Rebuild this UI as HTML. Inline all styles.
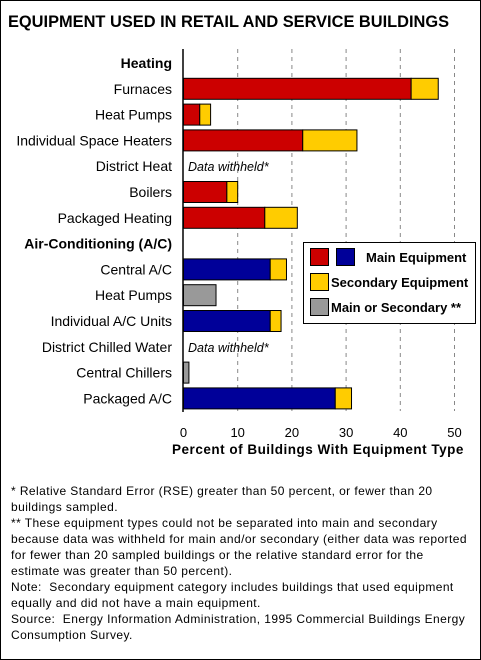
<!DOCTYPE html>
<html><head><meta charset="utf-8"><style>
html,body{margin:0;padding:0;background:#fff;}
#wrap{position:relative;width:479px;height:658px;border:1px solid #000;overflow:hidden;font-family:"Liberation Sans",sans-serif;}
.t{position:absolute;white-space:nowrap;color:#000;}
#notes{position:absolute;left:10px;top:482px;font-size:12px;line-height:16px;white-space:nowrap;letter-spacing:0.42px;}
</style></head><body>
<div id="wrap">
<div class="t" style="left:7px;top:12px;font-size:16.4px;font-weight:bold;">EQUIPMENT USED IN RETAIL AND SERVICE BUILDINGS</div>
<svg id="chart" width="479" height="470" style="position:absolute;left:0;top:0"></svg>
<div id="notes">* Relative Standard Error (RSE) greater than 50 percent, or fewer than 20<br>buildings sampled.<br>** These equipment types could not be separated into main and secondary<br>because data was withheld for main and/or secondary (either data was reported<br>for fewer than 20 sampled buildings or the relative standard error for the<br>estimate was greater than 50 percent).<br>Note:&nbsp; Secondary equipment category includes buildings that used equipment<br>equally and did not have a main equipment.<br>Source:&nbsp; Energy Information Administration, 1995 Commercial Buildings Energy<br>Consumption Survey.</div>
</div>
<script>
const categories=["Heating","Furnaces","Heat Pumps","Individual Space Heaters","District Heat","Boilers","Packaged Heating","Air-Conditioning (A/C)","Central A/C","Heat Pumps","Individual A/C Units","District Chilled Water","Central Chillers","Packaged A/C"];
const kinds=["header","heat","heat","heat","withheld","heat","heat","header","cool","gray","cool","withheld","gray","cool"];
const mainValues=[null,42,3,22,null,8,15,null,16,null,16,null,null,28];
const secondaryValues=[null,5,2,10,null,2,6,null,3,null,2,null,null,3];
const graySingleValues=[null,null,null,null,null,null,null,null,null,6,null,null,1,null];
const ticks=[0,10,20,30,40,50];
const NS="http://www.w3.org/2000/svg";
const svg=document.getElementById('chart');
const x0=182.5,pxPer=5.42;
const xs=v=>x0+v*pxPer;
const rowY=i=>62+i*25.8;
function mk(tag,attrs){const e=document.createElementNS(NS,tag);for(const k in attrs)e.setAttribute(k,attrs[k]);svg.appendChild(e);return e;}
ticks.forEach(t=>{
 if(t>0){const g=mk('line',{x1:xs(t),x2:xs(t),y1:48,y2:410,stroke:'#888','stroke-dasharray':'4,4','stroke-width':1});
 
 }
 const lb=mk('text',{x:xs(t),y:436,'text-anchor':'middle','font-size':13,'font-family':'Liberation Sans, sans-serif'});
 lb.textContent=t;
 
 
});
const ax=mk('line',{x1:x0-0.5,x2:x0-0.5,y1:48,y2:411,stroke:'#000','stroke-width':1.5});


const at=mk('text',{x:317,y:453,'text-anchor':'middle','font-size':13.5,'font-weight':'bold','letter-spacing':0.5,'font-family':'Liberation Sans, sans-serif'});
at.textContent='Percent of Buildings With Equipment Type';


const H=21;
categories.forEach((c,i)=>{
 const cy=rowY(i);const k=kinds[i];
 const lab=mk('text',{x:171,y:cy+5,'text-anchor':'end','font-size':14,'font-family':'Liberation Sans, sans-serif','font-weight':k==='header'?'bold':'normal'});
 lab.textContent=c;
 
 
 if(k==='withheld'){
  const w=mk('text',{x:187,y:cy+5,'font-size':12.5,'font-style':'italic','font-family':'Liberation Sans, sans-serif'});
  w.textContent='Data withheld*';
  
  
 }
 if(k==='heat'||k==='cool'){
  const m=mainValues[i],s=secondaryValues[i];
  const b1=mk('rect',{x:xs(0),y:cy-H/2,width:xs(m)-xs(0),height:H,fill:k==='heat'?'#cc0000':'#000099',stroke:'#000','stroke-width':1});
  
  
  const b2=mk('rect',{x:xs(m),y:cy-H/2,width:xs(m+s)-xs(m),height:H,fill:'#ffcc00',stroke:'#000','stroke-width':1});
  
  
 }
 if(k==='gray'){
  const g=graySingleValues[i];
  const b=mk('rect',{x:xs(0),y:cy-H/2,width:xs(g)-xs(0),height:H,fill:'#999999',stroke:'#000','stroke-width':1});
  
  
 }
});
const lg=mk('rect',{x:302.5,y:241.5,width:172,height:81,fill:'#fff',stroke:'#000','stroke-width':1});


const sw=[[309,247,'#cc0000','legend-swatch-main-heating'],[335,247,'#000099','legend-swatch-main-cooling'],[309,272,'#ffcc00','legend-swatch-secondary'],[309,297,'#999999','legend-swatch-main-or-secondary']];
sw.forEach(s=>{const r=mk('rect',{x:s[0]+.5,y:s[1]+.5,width:18,height:17,fill:s[2],stroke:'#000','stroke-width':1});
 
 });
const lt=[[365,261,'Main Equipment'],[330,286,'Secondary Equipment'],[330,311,'Main or Secondary **']];
lt.forEach(t=>{const e=mk('text',{x:t[0],y:t[1],'font-size':13,'font-weight':'bold','font-family':'Liberation Sans, sans-serif'});e.textContent=t[2];
 
 });
</script>
</body></html>
